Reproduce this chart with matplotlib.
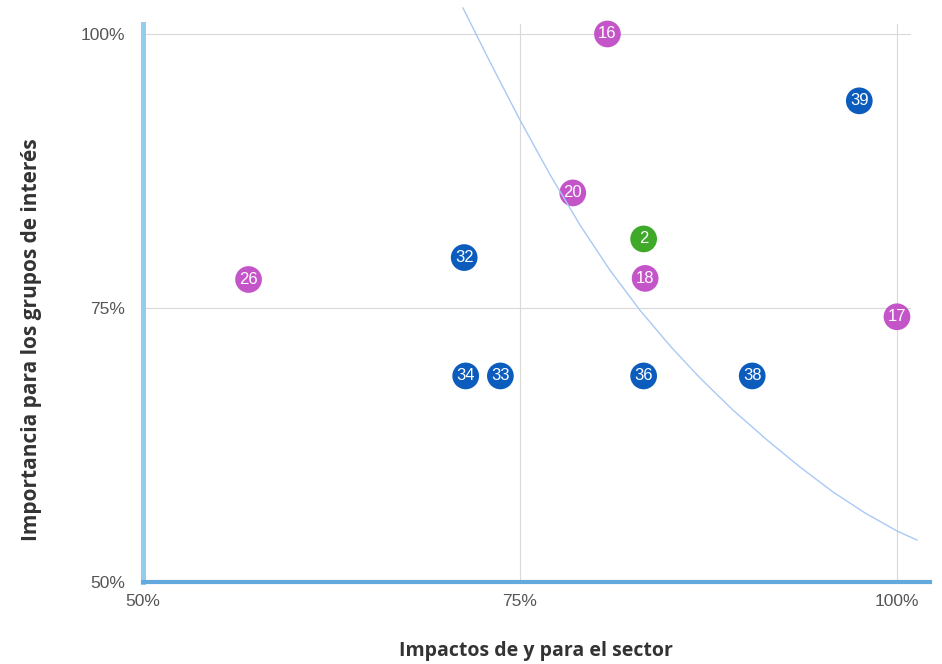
import matplotlib
matplotlib.use("Agg")
import matplotlib.pyplot as plt

# bubbles: code, impacto (x, %), importancia (y, %), group
codes = ["16", "39", "20", "2", "18", "32", "26", "17", "34", "33", "36", "38"]
impacto = [80.8, 97.5, 78.5, 83.2, 83.3, 71.3, 57.0, 100.0, 71.4, 73.7, 83.2, 90.4]
importancia = [100.0, 93.9, 85.5, 81.3, 77.7, 79.6, 77.6, 74.2, 68.8, 68.8, 68.8, 68.8]
grupo = ["social", "ambiental", "social", "gobernanza", "social", "ambiental",
         "social", "social", "ambiental", "ambiental", "ambiental", "ambiental"]
group_colors = {"ambiental": "#0B5CBD", "social": "#C455C9", "gobernanza": "#3FAA2A"}

# materiality threshold curve
curve_x = [71.22, 73.01, 75.0, 76.99, 78.98, 80.97, 82.96, 84.95, 86.94,
           89.12, 91.38, 93.57, 95.76, 97.88, 100.0, 101.33]
curve_y = [102.37, 97.45, 92.15, 87.17, 82.57, 78.44, 74.79, 71.55, 68.61,
           65.69, 62.96, 60.49, 58.21, 56.30, 54.65, 53.83]

ticks = [50, 75, 100]
tick_labels = ["50%", "75%", "100%"]

fig = plt.figure(figsize=(9.42, 6.64), dpi=100)
ax = fig.add_axes([143 / 942, 82 / 664, 787 / 942, 574 / 664])
ax.set_xlim(50, 102.19)
ax.set_ylim(50, 102.37)

# grid lines (only at 75 and 100)
for t in ticks[1:]:
    ax.axhline(t, xmin=0, xmax=0.975, color="#D9D9D9", lw=0.8, zorder=1)
    ax.axvline(t, ymin=0, ymax=0.972, color="#D9D9D9", lw=0.8, zorder=1)

for s in ["top", "right"]:
    ax.spines[s].set_visible(False)
ax.spines["left"].set_color("#95CBEF")
ax.spines["left"].set_linewidth(3.6)
ax.spines["left"].set_bounds(50, 100.9)
ax.spines["bottom"].set_color("#64A9DE")
ax.spines["bottom"].set_linewidth(3.0)

ax.set_xticks(ticks)
ax.set_xticklabels(tick_labels)
ax.set_yticks(ticks)
ax.set_yticklabels(tick_labels)
ax.tick_params(length=0, labelsize=12.5, labelcolor="#555555")
ax.tick_params(axis="x", pad=9)
ax.tick_params(axis="y", pad=13)
for lbl in ax.get_xticklabels() + ax.get_yticklabels():
    lbl.set_family("Liberation Sans")

colors = [group_colors[g] for g in grupo]
ax.scatter(impacto, importancia, s=370, c=colors, edgecolors="none", zorder=3, clip_on=False)
ax.plot(curve_x, curve_y, color="#A9C9F4", lw=1.0, zorder=4, clip_on=False,
        solid_joinstyle="round")
for c, x, y in zip(codes, impacto, importancia):
    ax.text(x, y, c, ha="center", va="center", color="white", fontsize=12,
            family="Liberation Sans", zorder=5)

fig.text(536 / 942, 1 - 651 / 664, "Impactos de y para el sector", ha="center", va="center",
         fontsize=14, fontweight="bold", color="#333333", family="Open Sans")
fig.text(32 / 942, 1 - 340 / 664, "Importancia para los grupos de interés", ha="center",
         va="center", rotation=90, fontsize=15, fontweight="bold", color="#333333",
         family="Open Sans")

fig.savefig("out.png", dpi=100)
